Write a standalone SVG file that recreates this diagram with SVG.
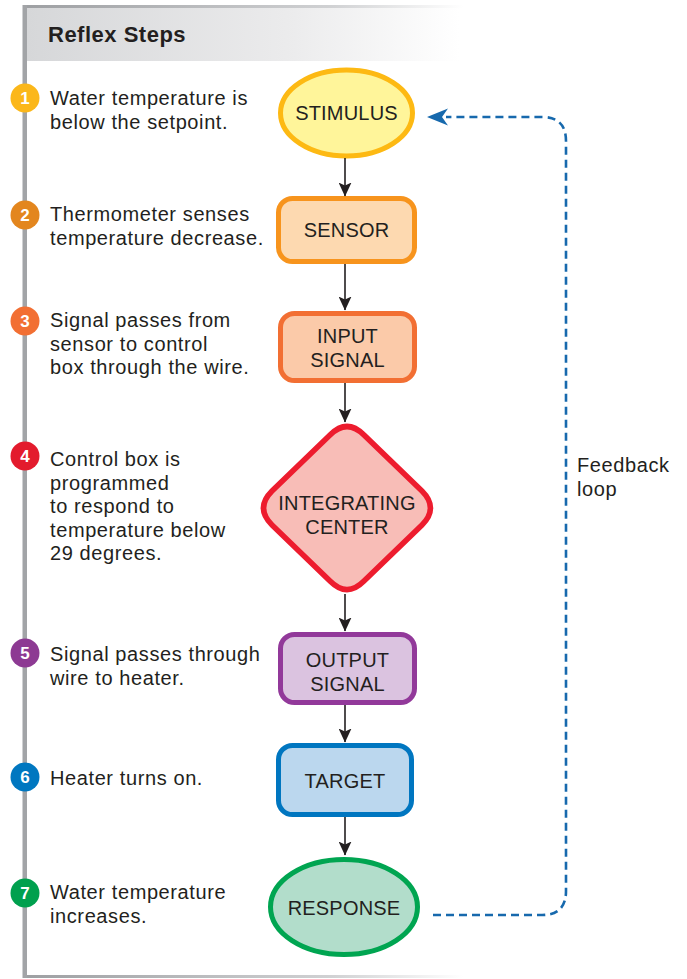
<svg xmlns="http://www.w3.org/2000/svg" width="687" height="979" viewBox="0 0 687 979">
<defs>
<linearGradient id="hdr" x1="0" y1="0" x2="1" y2="0">
<stop offset="0" stop-color="#d6d7d9"/><stop offset="0.6" stop-color="#ebebec"/><stop offset="1" stop-color="#ffffff"/>
</linearGradient>
<linearGradient id="topbar" x1="0" y1="0" x2="1" y2="0">
<stop offset="0" stop-color="#9d9fa2"/><stop offset="0.7" stop-color="#d0d1d3"/><stop offset="1" stop-color="#ffffff"/>
</linearGradient>
<marker id="ah" viewBox="0 0 14 13" refX="13.5" refY="6.5" markerWidth="14" markerHeight="13" markerUnits="userSpaceOnUse" orient="auto">
<path d="M0,0 L14,6.5 L0,13 L3,6.5 Z" fill="#231f20"/>
</marker>
</defs>
<style>
.step{font-family:"Liberation Sans",Arial,sans-serif;font-size:20px;letter-spacing:0.6px;fill:#231f20}
.num{font-family:"Liberation Sans",Arial,sans-serif;font-size:17px;font-weight:bold;fill:#ffffff;text-anchor:middle}
.lbl{font-family:"Liberation Sans",Arial,sans-serif;font-size:20px;letter-spacing:0.2px;fill:#231f20;text-anchor:middle}
.arr{stroke:#231f20;stroke-width:1.6;fill:none;marker-end:url(#ah)}
.fb{stroke:#1769ad;stroke-width:2.6;fill:none;stroke-dasharray:8 5}
</style>

<!-- frame -->
<rect x="23" y="5" width="440" height="3" fill="url(#topbar)"/>
<rect x="27" y="8" width="432" height="53" fill="url(#hdr)"/>
<rect x="23" y="975" width="440" height="3" fill="url(#topbar)"/>
<rect x="22.5" y="5" width="4.5" height="973" fill="#a2a4a7"/>
<text x="48" y="42" style="font-family:'Liberation Sans',Arial,sans-serif;font-size:22px;font-weight:bold;letter-spacing:0.5px;fill:#231f20">Reflex Steps</text>

<!-- steps -->
<g id="step1">
<circle cx="25" cy="98" r="14.5" fill="#fbb71a"/><text class="num" x="25" y="104">1</text>
<text class="step" x="50" y="105">Water temperature is</text>
<text class="step" x="50" y="128.5">below the setpoint.</text>
</g>
<g id="step2">
<circle cx="25" cy="215" r="14.5" fill="#e3861e"/><text class="num" x="25" y="221">2</text>
<text class="step" x="50" y="221">Thermometer senses</text>
<text class="step" x="50" y="244.5">temperature decrease.</text>
</g>
<g id="step3">
<circle cx="25" cy="321" r="14.5" fill="#f26f33"/><text class="num" x="25" y="327">3</text>
<text class="step" x="50" y="327">Signal passes from</text>
<text class="step" x="50" y="350.5">sensor to control</text>
<text class="step" x="50" y="374">box through the wire.</text>
</g>
<g id="step4">
<circle cx="25" cy="456" r="14.5" fill="#e31b2d"/><text class="num" x="25" y="462">4</text>
<text class="step" x="50" y="466">Control box is</text>
<text class="step" x="50" y="489.5">programmed</text>
<text class="step" x="50" y="513">to respond to</text>
<text class="step" x="50" y="536.5">temperature below</text>
<text class="step" x="50" y="560">29 degrees.</text>
</g>
<g id="step5">
<circle cx="25" cy="653" r="14.5" fill="#8d3a93"/><text class="num" x="25" y="659">5</text>
<text class="step" x="50" y="661">Signal passes through</text>
<text class="step" x="50" y="684.5">wire to heater.</text>
</g>
<g id="step6">
<circle cx="25" cy="777" r="14.5" fill="#0077c0"/><text class="num" x="25" y="783">6</text>
<text class="step" x="50" y="785">Heater turns on.</text>
</g>
<g id="step7">
<circle cx="25" cy="893" r="14.5" fill="#00a04e"/><text class="num" x="25" y="899">7</text>
<text class="step" x="50" y="899">Water temperature</text>
<text class="step" x="50" y="922.5">increases.</text>
</g>

<!-- nodes -->
<g id="stimulus">
<ellipse cx="346.5" cy="113" rx="66" ry="43" fill="#fff59a" stroke="#fdb913" stroke-width="5"/>
<text class="lbl" x="346.5" y="120">STIMULUS</text>
</g>
<g id="sensor">
<rect x="278.5" y="198.5" width="136" height="63" rx="14" fill="#fdd9b0" stroke="#f7941d" stroke-width="5"/>
<text class="lbl" x="346.5" y="237">SENSOR</text>
</g>
<g id="input-signal">
<rect x="280.5" y="313.5" width="134" height="67" rx="14" fill="#fbcaa9" stroke="#f26f33" stroke-width="5"/>
<text class="lbl" x="347.5" y="343">INPUT</text>
<text class="lbl" x="347.5" y="367">SIGNAL</text>
</g>
<g id="integrating-center">
<path d="M330,435 Q347,418 364,435 L422,491 Q439,508 422,525 L364,581 Q347,598 330,581 L272,525 Q255,508 272,491 Z" fill="#f8bdb7" stroke="#ed1c2e" stroke-width="5.5" stroke-linejoin="round"/>
<text class="lbl" x="347" y="510">INTEGRATING</text>
<text class="lbl" x="347" y="534">CENTER</text>
</g>
<g id="output-signal">
<rect x="280.5" y="634.5" width="134" height="68" rx="14" fill="#dbc3e0" stroke="#92399a" stroke-width="5"/>
<text class="lbl" x="347.5" y="667">OUTPUT</text>
<text class="lbl" x="347.5" y="691">SIGNAL</text>
</g>
<g id="target">
<rect x="278.5" y="745.5" width="133" height="69" rx="14" fill="#bbd7ee" stroke="#0076c0" stroke-width="5"/>
<text class="lbl" x="345" y="788">TARGET</text>
</g>
<g id="response">
<ellipse cx="344" cy="907" rx="73.5" ry="47.5" fill="#b2ddcb" stroke="#00a551" stroke-width="5"/>
<text class="lbl" x="344" y="915">RESPONSE</text>
</g>

<!-- connectors -->
<g id="connectors">
<line class="arr" x1="345" y1="158" x2="345" y2="196"/>
<line class="arr" x1="345" y1="264" x2="345" y2="310"/>
<line class="arr" x1="345" y1="383" x2="345" y2="422"/>
<line class="arr" x1="345" y1="594" x2="345" y2="631"/>
<line class="arr" x1="345" y1="705" x2="345" y2="742"/>
<line class="arr" x1="345" y1="817" x2="345" y2="855"/>
<path class="fb" d="M433,915 L542,915 Q566,915 566,891 L566,141 Q566,117 542,117 L446,117"/>
<path d="M427,117 L448,108.5 L442,117 L448,125.5 Z" fill="#1769ad"/>
<text x="577" y="472" style="font-family:'Liberation Sans',Arial,sans-serif;font-size:20px;letter-spacing:0.6px;fill:#231f20">Feedback</text>
<text x="577" y="496" style="font-family:'Liberation Sans',Arial,sans-serif;font-size:20px;letter-spacing:0.6px;fill:#231f20">loop</text>
</g>
</svg>
